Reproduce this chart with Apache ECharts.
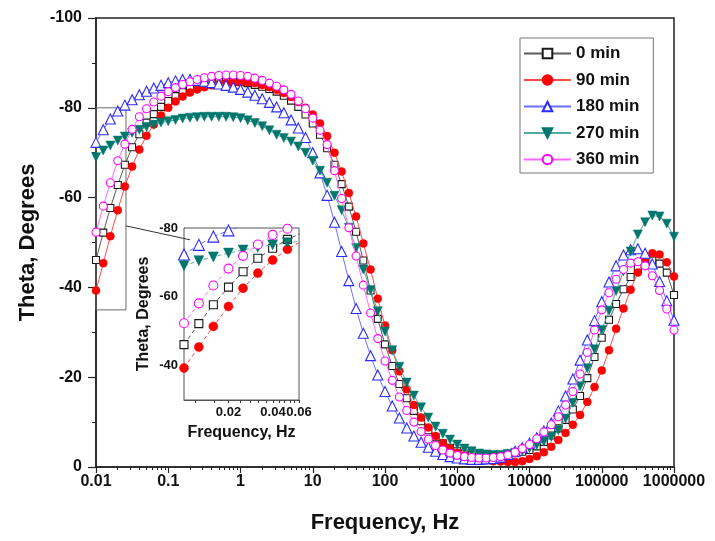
<!DOCTYPE html>
<html>
<head>
<meta charset="utf-8">
<script src="https://cdn.jsdelivr.net/npm/echarts@6/dist/echarts.min.js"></script>
<style>
  html, body { margin: 0; padding: 0; background: #fff; }
  #chart { width: 715px; height: 541px; }
</style>
</head>
<body>
<div id="chart"></div>
<script>
// Measurement frequencies (Hz), 10 points per decade
const frequencies = [
  0.01, 0.0126, 0.0158, 0.02, 0.0251, 0.0316, 0.0398, 0.0501, 0.0631, 0.0794,
  0.1, 0.126, 0.158, 0.2, 0.251, 0.316, 0.398, 0.501, 0.631, 0.794,
  1, 1.26, 1.58, 2, 2.51, 3.16, 3.98, 5.01, 6.31, 7.94,
  10, 12.6, 15.8, 20, 25.1, 31.6, 39.8, 50.1, 63.1, 79.4,
  100, 126, 158, 200, 251, 316, 398, 501, 631, 794,
  1000, 1260, 1580, 2000, 2510, 3160, 3980, 5010, 6310, 7940,
  10000, 12600, 15800, 20000, 25100, 31600, 39800, 50100, 63100, 79400,
  100000, 126000, 158000, 200000, 251000, 316000, 398000, 501000, 631000, 794000,
  1000000
];

// Phase angle (degrees) for each immersion time
const theta0min = [
  -46.1, -52.2, -57.7, -62.8, -67.3, -71.2, -74.1, -76.7, -78.6, -80.2,
  -81.5, -82.6, -83.5, -84.2, -84.8, -85.2, -85.5, -85.7, -85.8, -85.8,
  -85.7, -85.5, -85.1, -84.7, -84.2, -83.6, -82.7, -81.6, -80.2, -78.5,
  -76.5, -74.0, -71.0, -67.3, -63.0, -58.0, -52.4, -46.0, -39.3, -33.0,
  -27.3, -22.5, -18.5, -15.3, -12.5, -10.2, -8.2, -6.6, -5.3, -4.3,
  -3.5, -3.0, -2.6, -2.4, -2.3, -2.3, -2.5, -2.8, -3.1, -3.4,
  -3.8, -4.6, -5.6, -7.0, -8.6, -10.5, -12.8, -15.8, -19.8, -24.5,
  -28.8, -32.8, -36.3, -39.6, -42.3, -44.3, -45.6, -46.0, -45.3, -43.3,
  -38.3
];
const theta90min = [
  -39.3, -45.4, -51.4, -57.2, -62.5, -66.9, -70.7, -73.8, -76.3, -78.3,
  -80.0, -81.4, -82.5, -83.4, -84.1, -84.6, -85.0, -85.3, -85.5, -85.6,
  -85.7, -85.7, -85.5, -85.1, -84.6, -84.0, -83.3, -82.4, -81.3, -80.0,
  -78.5, -76.5, -73.7, -70.0, -65.8, -61.0, -55.8, -49.8, -44.0, -37.5,
  -31.5, -26.0, -21.3, -17.3, -13.8, -11.0, -8.8, -6.9, -5.3, -4.1,
  -3.2, -2.6, -2.1, -1.8, -1.5, -1.3, -1.2, -1.1, -1.1, -1.3,
  -1.8, -2.4, -3.3, -4.5, -6.0, -7.6, -9.4, -11.6, -14.5, -17.8,
  -21.5, -26.0, -30.8, -35.3, -39.5, -43.3, -46.3, -47.6, -47.3, -45.6,
  -42.4
];
const theta180min = [
  -72.3, -75.1, -77.5, -79.3, -80.6, -81.8, -82.9, -83.7, -84.4, -85.0,
  -85.6, -86.0, -86.3, -86.3, -86.1, -85.9, -85.6, -85.3, -85.0, -84.6,
  -84.1, -83.5, -82.8, -82.0, -81.2, -80.2, -78.9, -77.3, -75.5, -73.4,
  -70.0, -65.5, -60.5, -54.5, -48.0, -41.5, -35.3, -29.8, -24.8, -20.5,
  -16.8, -13.6, -10.9, -8.7, -6.9, -5.5, -4.4, -3.5, -2.8, -2.3,
  -2.0, -1.8, -1.7, -1.7, -1.8, -1.9, -2.2, -2.8, -3.5, -4.3,
  -5.3, -6.5, -8.0, -9.8, -12.5, -15.8, -19.6, -23.8, -28.3, -32.6,
  -36.8, -41.2, -44.8, -47.2, -48.4, -48.6, -47.6, -45.2, -41.3, -37.0,
  -32.7
];
const theta270min = [
  -69.0, -70.5, -71.6, -72.7, -73.6, -74.4, -75.1, -75.7, -76.2, -76.7,
  -77.0, -77.3, -77.6, -77.8, -77.9, -78.0, -78.0, -78.0, -78.0, -77.9,
  -77.7, -77.2, -76.6, -75.9, -75.0, -74.0, -73.3, -72.5, -71.4, -70.0,
  -68.2, -66.0, -63.3, -60.4, -57.2, -53.3, -48.8, -44.0, -39.4, -34.7,
  -30.2, -26.0, -22.3, -18.8, -15.9, -13.3, -11.0, -9.0, -7.4, -6.1,
  -5.0, -4.1, -3.5, -3.0, -2.8, -2.7, -2.7, -2.9, -3.2, -3.6,
  -4.2, -4.9, -5.7, -6.7, -8.2, -10.8, -14.3, -18.0, -22.0, -26.2,
  -30.5, -34.8, -39.2, -43.6, -48.0, -51.8, -54.5, -56.0, -55.8, -54.2,
  -51.3
];
const theta360min = [
  -52.3, -58.1, -63.3, -68.2, -71.9, -75.2, -78.0, -79.8, -81.3, -82.6,
  -83.6, -84.5, -85.2, -85.8, -86.3, -86.7, -87.0, -87.2, -87.3, -87.3,
  -87.2, -87.0, -86.6, -86.1, -85.5, -84.8, -84.0, -83.0, -81.5, -79.8,
  -77.7, -75.0, -71.8, -66.0, -59.8, -53.3, -47.0, -40.5, -34.3, -28.6,
  -23.6, -19.3, -15.6, -12.6, -10.0, -7.9, -6.2, -4.8, -3.8, -3.1,
  -2.6, -2.3, -2.1, -2.0, -2.0, -2.1, -2.3, -2.7, -3.3, -4.1,
  -5.0, -6.3, -7.8, -9.4, -11.2, -13.8, -16.8, -20.7, -25.5, -30.5,
  -35.0, -38.8, -41.8, -44.0, -45.4, -45.7, -44.8, -42.6, -39.3, -35.2,
  -30.5
];

const seriesNames = ['0 min', '90 min', '180 min', '270 min', '360 min'];
const seriesValues = [theta0min, theta90min, theta180min, theta270min, theta360min];

// Axis ticks and labels
const xMajorTicks = [0.01, 0.1, 1, 10, 100, 1000, 10000, 100000, 1000000];
const xTickLabels = ['0.01', '0.1', '1', '10', '100', '1000', '10000', '100000', '1000000'];
const yTickValues = [-100, -80, -60, -40, -20, 0];
const yTickLabels = ['-100', '-80', '-60', '-40', '-20', '0'];

// Inset (low-frequency close-up)
const insetXTicks = [0.02, 0.04, 0.06];
const insetXTickLabels = ['0.02', '0.04', '0.06'];
const insetXMinorTicks = [0.012, 0.016, 0.024, 0.028, 0.032, 0.036, 0.044, 0.048, 0.052, 0.056];
const insetYTicks = [-80, -60, -40];
const insetYTickLabels = ['-80', '-60', '-40'];
const insetFreqLimit = 0.07;

// Region of the main plot enlarged in the inset
const zoomBoxCorners = [[0.01, -80], [0.026, -35]];
const zoomArrow = [[0.026, -53.7], [0.2, -50.6]];

// Minor ticks at 2..9 within each decade
const xMinorTicks = [];
for (let i = 0; i < xMajorTicks.length - 1; i++) {
  for (let m = 2; m <= 9; m++) xMinorTicks.push(+(xMajorTicks[i] * m).toPrecision(6));
}

const FONT = "'Liberation Sans', Arial, sans-serif";
// hollow: white fill with a thin coloured outline
const styles = [
  { symbol: 'rect', size: 7, rotate: 0, color: '#1a1a1a', line: '#5a5a5a', hollow: true },
  { symbol: 'circle', size: 8, rotate: 0, color: '#ff0000', line: '#ff4a4a', hollow: false },
  { symbol: 'triangle', size: 10, rotate: 0, color: '#2b2bff', line: '#6e6eff', hollow: true },
  { symbol: 'triangle', size: 9, rotate: 180, color: '#00776d', line: '#52aaa2', hollow: false },
  { symbol: 'circle', size: 8, rotate: 0, color: '#ff00ff', line: '#ff66ff', hollow: true }
];

function markerStyle(s) {
  return s.hollow
    ? { color: '#ffffff', borderColor: s.color, borderWidth: 1.1 }
    : { color: s.color, borderColor: s.color, borderWidth: 0.5 };
}

function labelFor(values, labels) {
  return function (v) {
    let best = 0, bd = Infinity;
    values.forEach((t, i) => {
      const d = Math.abs(Math.log(t) - Math.log(v));
      if (d < bd) { bd = d; best = i; }
    });
    return labels[best];
  };
}

const series = [];
seriesValues.forEach((vals, i) => {
  const s = styles[i];
  const main = {
    name: seriesNames[i],
    type: 'line',
    xAxisIndex: 0,
    yAxisIndex: 0,
    data: frequencies.map((f, k) => [f, vals[k]]),
    symbol: s.symbol,
    symbolSize: s.size,
    symbolRotate: s.rotate,
    itemStyle: markerStyle(s),
    lineStyle: { color: s.line, width: 1 },
    z: 3 + i
  };
  if (i === 0) {
    main.markArea = {
      silent: true,
      itemStyle: { color: 'rgba(0,0,0,0)', borderColor: '#6a6a6a', borderWidth: 1 },
      data: [[{ coord: zoomBoxCorners[0] }, { coord: zoomBoxCorners[1] }]]
    };
    main.markLine = {
      silent: true,
      symbol: ['none', 'arrow'],
      symbolSize: [0, 9],
      label: { show: false },
      lineStyle: { color: '#333', width: 1, type: 'solid' },
      data: [[{ coord: zoomArrow[0] }, { coord: zoomArrow[1] }]]
    };
  }
  series.push(main);
});
seriesValues.forEach((vals, i) => {
  const s = styles[i];
  const pts = [];
  frequencies.forEach((f, k) => { if (f <= insetFreqLimit) pts.push([f, vals[k]]); });
  series.push({
    name: seriesNames[i],
    type: 'line',
    xAxisIndex: 2,
    yAxisIndex: 1,
    data: pts,
    clip: true,
    symbol: s.symbol,
    symbolSize: s.size + 1,
    symbolRotate: s.rotate,
    itemStyle: markerStyle(s),
    lineStyle: { color: s.line, width: 1, type: [4, 3] },
    z: 3 + i
  });
});

const chart = echarts.init(document.getElementById('chart'), null, { renderer: 'canvas' });
chart.setOption({
  animation: false,
  backgroundColor: '#fff',
  textStyle: { fontFamily: FONT },
  grid: [
    { left: 96, top: 18, width: 578, height: 449, show: true, borderColor: '#222', borderWidth: 1.5, backgroundColor: 'transparent' },
    { left: 184, top: 228, width: 115, height: 172, show: true, borderColor: '#555', borderWidth: 1, backgroundColor: '#fff', z: 1 }
  ],
  legend: {
    data: seriesNames,
    orient: 'vertical',
    left: 520,
    top: 38,
    itemWidth: 47,
    itemHeight: 12,
    itemGap: 9.5,
    padding: [7, 14, 5, 3],
    borderColor: '#777',
    borderWidth: 1,
    backgroundColor: '#fff',
    textStyle: { fontSize: 17, fontWeight: 'bold', color: '#111', fontFamily: FONT, lineHeight: 16 }
  },
  xAxis: [
    {
      type: 'log', logBase: 10, gridIndex: 0, position: 'bottom',
      min: 0.01, max: 1000000,
      axisLine: { show: true, lineStyle: { color: '#222', width: 1.5 } },
      axisTick: { show: true, customValues: xMajorTicks, length: 6, lineStyle: { color: '#222', width: 1.2 } },
      axisLabel: {
        customValues: xMajorTicks, formatter: labelFor(xMajorTicks, xTickLabels),
        fontSize: 16, fontWeight: 'bold', color: '#111', margin: 7, fontFamily: FONT
      },
      splitLine: { show: false },
      name: 'Frequency, Hz', nameLocation: 'middle', nameGap: 45,
      nameTextStyle: { fontSize: 22, fontWeight: 'bold', color: '#111', fontFamily: FONT }
    },
    {
      type: 'log', logBase: 10, gridIndex: 0, position: 'bottom',
      min: 0.01, max: 1000000,
      axisLine: { show: false },
      axisTick: { show: true, customValues: xMinorTicks, length: 3, lineStyle: { color: '#222', width: 1 } },
      axisLabel: { show: false },
      splitLine: { show: false }
    },
    {
      type: 'log', logBase: 10, gridIndex: 1, position: 'bottom',
      min: 0.01, max: 0.06,
      axisLine: { show: true, lineStyle: { color: '#555', width: 1 } },
      axisTick: { show: true, customValues: insetXTicks.concat(insetXMinorTicks), length: 3, lineStyle: { color: '#333' } },
      axisLabel: {
        customValues: insetXTicks, formatter: labelFor(insetXTicks, insetXTickLabels),
        fontSize: 13, fontWeight: 'bold', color: '#111', margin: 6, fontFamily: FONT
      },
      splitLine: { show: false },
      name: 'Frequency, Hz', nameLocation: 'middle', nameGap: 25,
      nameTextStyle: { fontSize: 16, fontWeight: 'bold', color: '#111', fontFamily: FONT }
    }
  ],
  yAxis: [
    {
      type: 'value', gridIndex: 0, inverse: true,
      min: -100, max: 0, interval: 20,
      axisLine: { show: true, lineStyle: { color: '#222', width: 1.5 } },
      axisTick: { show: true, length: 8, lineStyle: { color: '#222', width: 1.2 } },
      minorTick: { show: true, splitNumber: 2, length: 4, lineStyle: { color: '#222', width: 1 } },
      axisLabel: {
        formatter: function (v) {
          const i = yTickValues.indexOf(Math.round(v));
          return i >= 0 ? yTickLabels[i] : '';
        },
        fontSize: 16, fontWeight: 'bold', color: '#111', margin: 14, fontFamily: FONT
      },
      splitLine: { show: false },
      name: 'Theta, Degrees', nameLocation: 'middle', nameGap: 51, nameRotate: 90,
      nameTextStyle: { fontSize: 22, fontWeight: 'bold', color: '#111', fontFamily: FONT }
    },
    {
      type: 'value', gridIndex: 1, inverse: true,
      min: -80, max: -30,
      axisLine: { show: true, lineStyle: { color: '#555', width: 1 } },
      axisTick: { show: false },
      axisLabel: {
        customValues: insetYTicks,
        formatter: function (v) {
          const i = insetYTicks.indexOf(Math.round(v));
          return i >= 0 ? insetYTickLabels[i] : '';
        },
        fontSize: 13, fontWeight: 'bold', color: '#111', margin: 6, fontFamily: FONT
      },
      splitLine: { show: false },
      name: 'Theta, Degrees', nameLocation: 'middle', nameGap: 32, nameRotate: 90,
      nameTextStyle: { fontSize: 16, fontWeight: 'bold', color: '#111', fontFamily: FONT }
    }
  ],
  series: series
});
</script>
</body>
</html>
